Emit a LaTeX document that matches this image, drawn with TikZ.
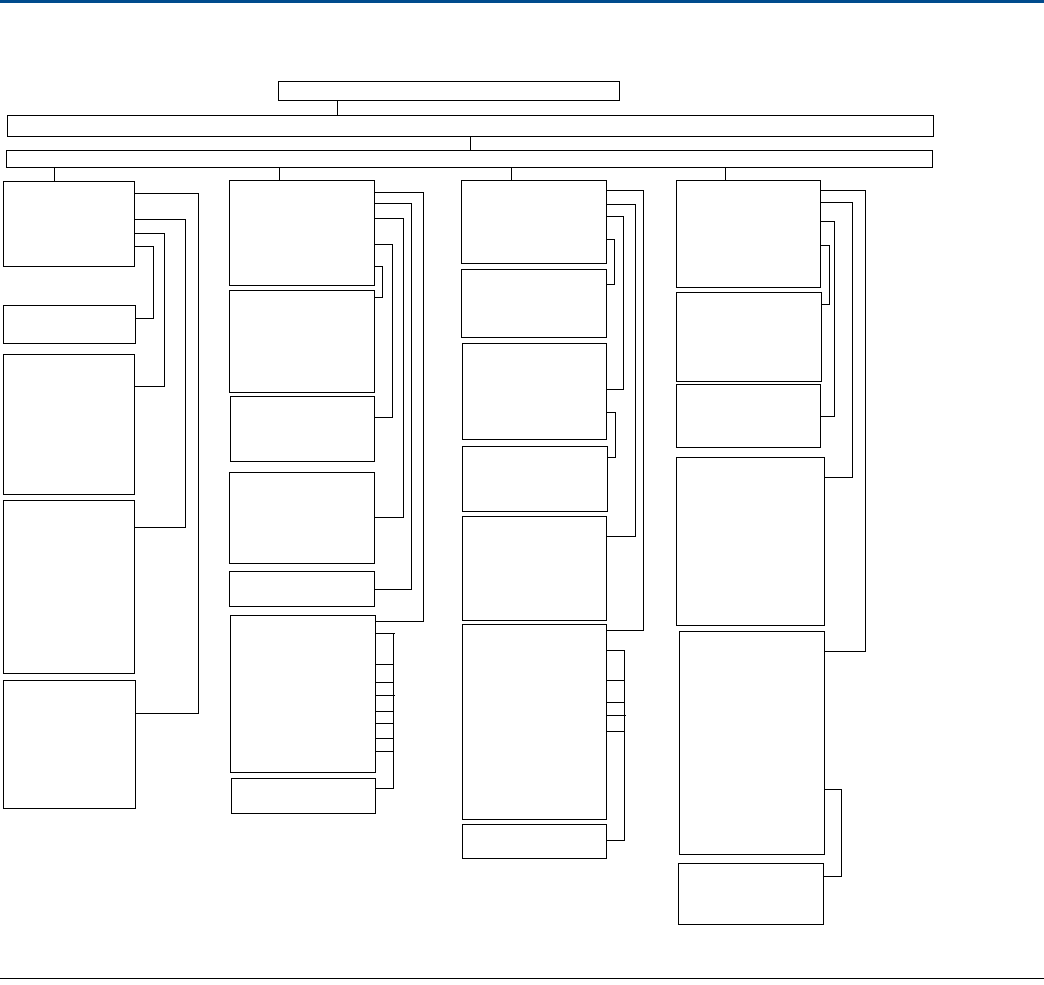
\documentclass[tikz,border=0pt]{standalone}
\usepackage{tikz}
\definecolor{topblue}{HTML}{004B8D}
\tikzset{
  box/.style={draw=black, line width=1pt, inner sep=0pt, fill=white},
  conn/.style={draw=black, line width=1pt},
}
\newcommand\bx[5]{\node[box, minimum width={(#4-#2)*1pt}, minimum height={(#5-#3)*1pt}] (#1) at ({(#2+#4)/2},{(#3+#5)/2}) {};}
% bracket: from node #1 at y #2, out to x #3, down to node #4 at y #5
\newcommand\br[5]{\draw[conn] (#1.east |- 0,#2) -| (#3,#5) -- (#4.east |- 0,#5);}
\newcommand\tick[3]{\draw[conn] (#1.east |- 0,#2) -- (#3,#2);}
\begin{document}
\begin{tikzpicture}[x=1pt,y=-1pt]
\useasboundingbox (0,0) rectangle (1044,985);
\fill[topblue] (0,0) rectangle (1044,2.5);
\draw[line width=1pt] (0,978) -- (1044,978);
% top boxes
\bx{T1}{278}{81}{619}{100}
\bx{T2}{7}{115}{933}{136}
\bx{T3}{6}{150}{932}{167}
\draw[conn] (T1.south -| 337,0) -- (T2.north -| 337,0);
\draw[conn] (T2.south -| 470,0) -- (T3.north -| 470,0);
% column 1
\bx{A1}{3}{181}{134}{266}
\bx{A2}{3}{305}{135}{343}
\bx{A3}{3}{354}{134}{494}
\bx{A4}{3}{500}{134}{673}
\bx{A5}{3}{680}{135}{808}
\draw[conn] (T3.south -| 54,0) -- (A1.north -| 54,0);
\br{A1}{193}{198}{A5}{713}
\br{A1}{219}{185}{A4}{527}
\br{A1}{233}{164}{A3}{386}
\br{A1}{246}{153}{A2}{318}
% column 2
\bx{B1}{229}{180}{374}{285}
\bx{B2}{229}{290}{374}{392}
\bx{B3}{230}{396}{374}{461}
\bx{B4}{229}{472}{374}{563}
\bx{B5}{229}{571}{374}{606}
\bx{B6}{230}{615}{375}{772}
\bx{B7}{231}{778}{375}{813}
\draw[conn] (T3.south -| 279,0) -- (B1.north -| 279,0);
\br{B1}{192}{423}{B6}{621}
\br{B1}{203}{411}{B5}{589}
\br{B1}{218}{403}{B4}{517}
\br{B1}{244}{392}{B3}{417}
\br{B1}{266}{382}{B2}{297}
\tick{B6}{633}{395}
\draw[conn] (393,633) -- (393,788) -- (B7.east |- 0,788);
\tick{B6}{664}{393}
\tick{B6}{682}{393}
\tick{B6}{695}{395}
\tick{B6}{711}{393}
\tick{B6}{723}{393}
\tick{B6}{738}{393}
\tick{B6}{751}{393}
% column 3
\bx{C1}{461}{180}{606}{263}
\bx{C2}{461}{269}{606}{337}
\bx{C3}{462}{343}{606}{439}
\bx{C4}{462}{446}{607}{511}
\bx{C5}{462}{516}{606}{620}
\bx{C6}{462}{624}{606}{819}
\bx{C7}{462}{824}{606}{858}
\draw[conn] (T3.south -| 511,0) -- (C1.north -| 511,0);
\br{C1}{190}{643}{C6}{630}
\br{C1}{204}{635}{C5}{536}
\br{C1}{216}{623}{C3}{389}
\br{C1}{239}{614}{C2}{284}
\br{C3}{412}{615}{C4}{457}
\draw[conn] (C6.east |- 0,650) -- (624,650) -- (624,840) -- (C7.east |- 0,840);
\tick{C6}{680}{624}
\tick{C6}{702}{624}
\tick{C6}{715}{626}
\tick{C6}{731}{624}
% column 4
\bx{D1}{676}{180}{820}{287}
\bx{D2}{676}{292}{821}{381}
\bx{D3}{676}{384}{820}{447}
\bx{D4}{676}{457}{824}{625}
\bx{D5}{679}{631}{824}{854}
\bx{D6}{678}{863}{823}{924}
\draw[conn] (T3.south -| 725,0) -- (D1.north -| 725,0);
\br{D1}{190}{865}{D5}{651}
\br{D1}{202}{852}{D4}{477}
\br{D1}{221}{834}{D3}{416}
\br{D1}{245}{829}{D2}{304}
\br{D5}{789}{841}{D6}{876}
\end{tikzpicture}
\end{document}
